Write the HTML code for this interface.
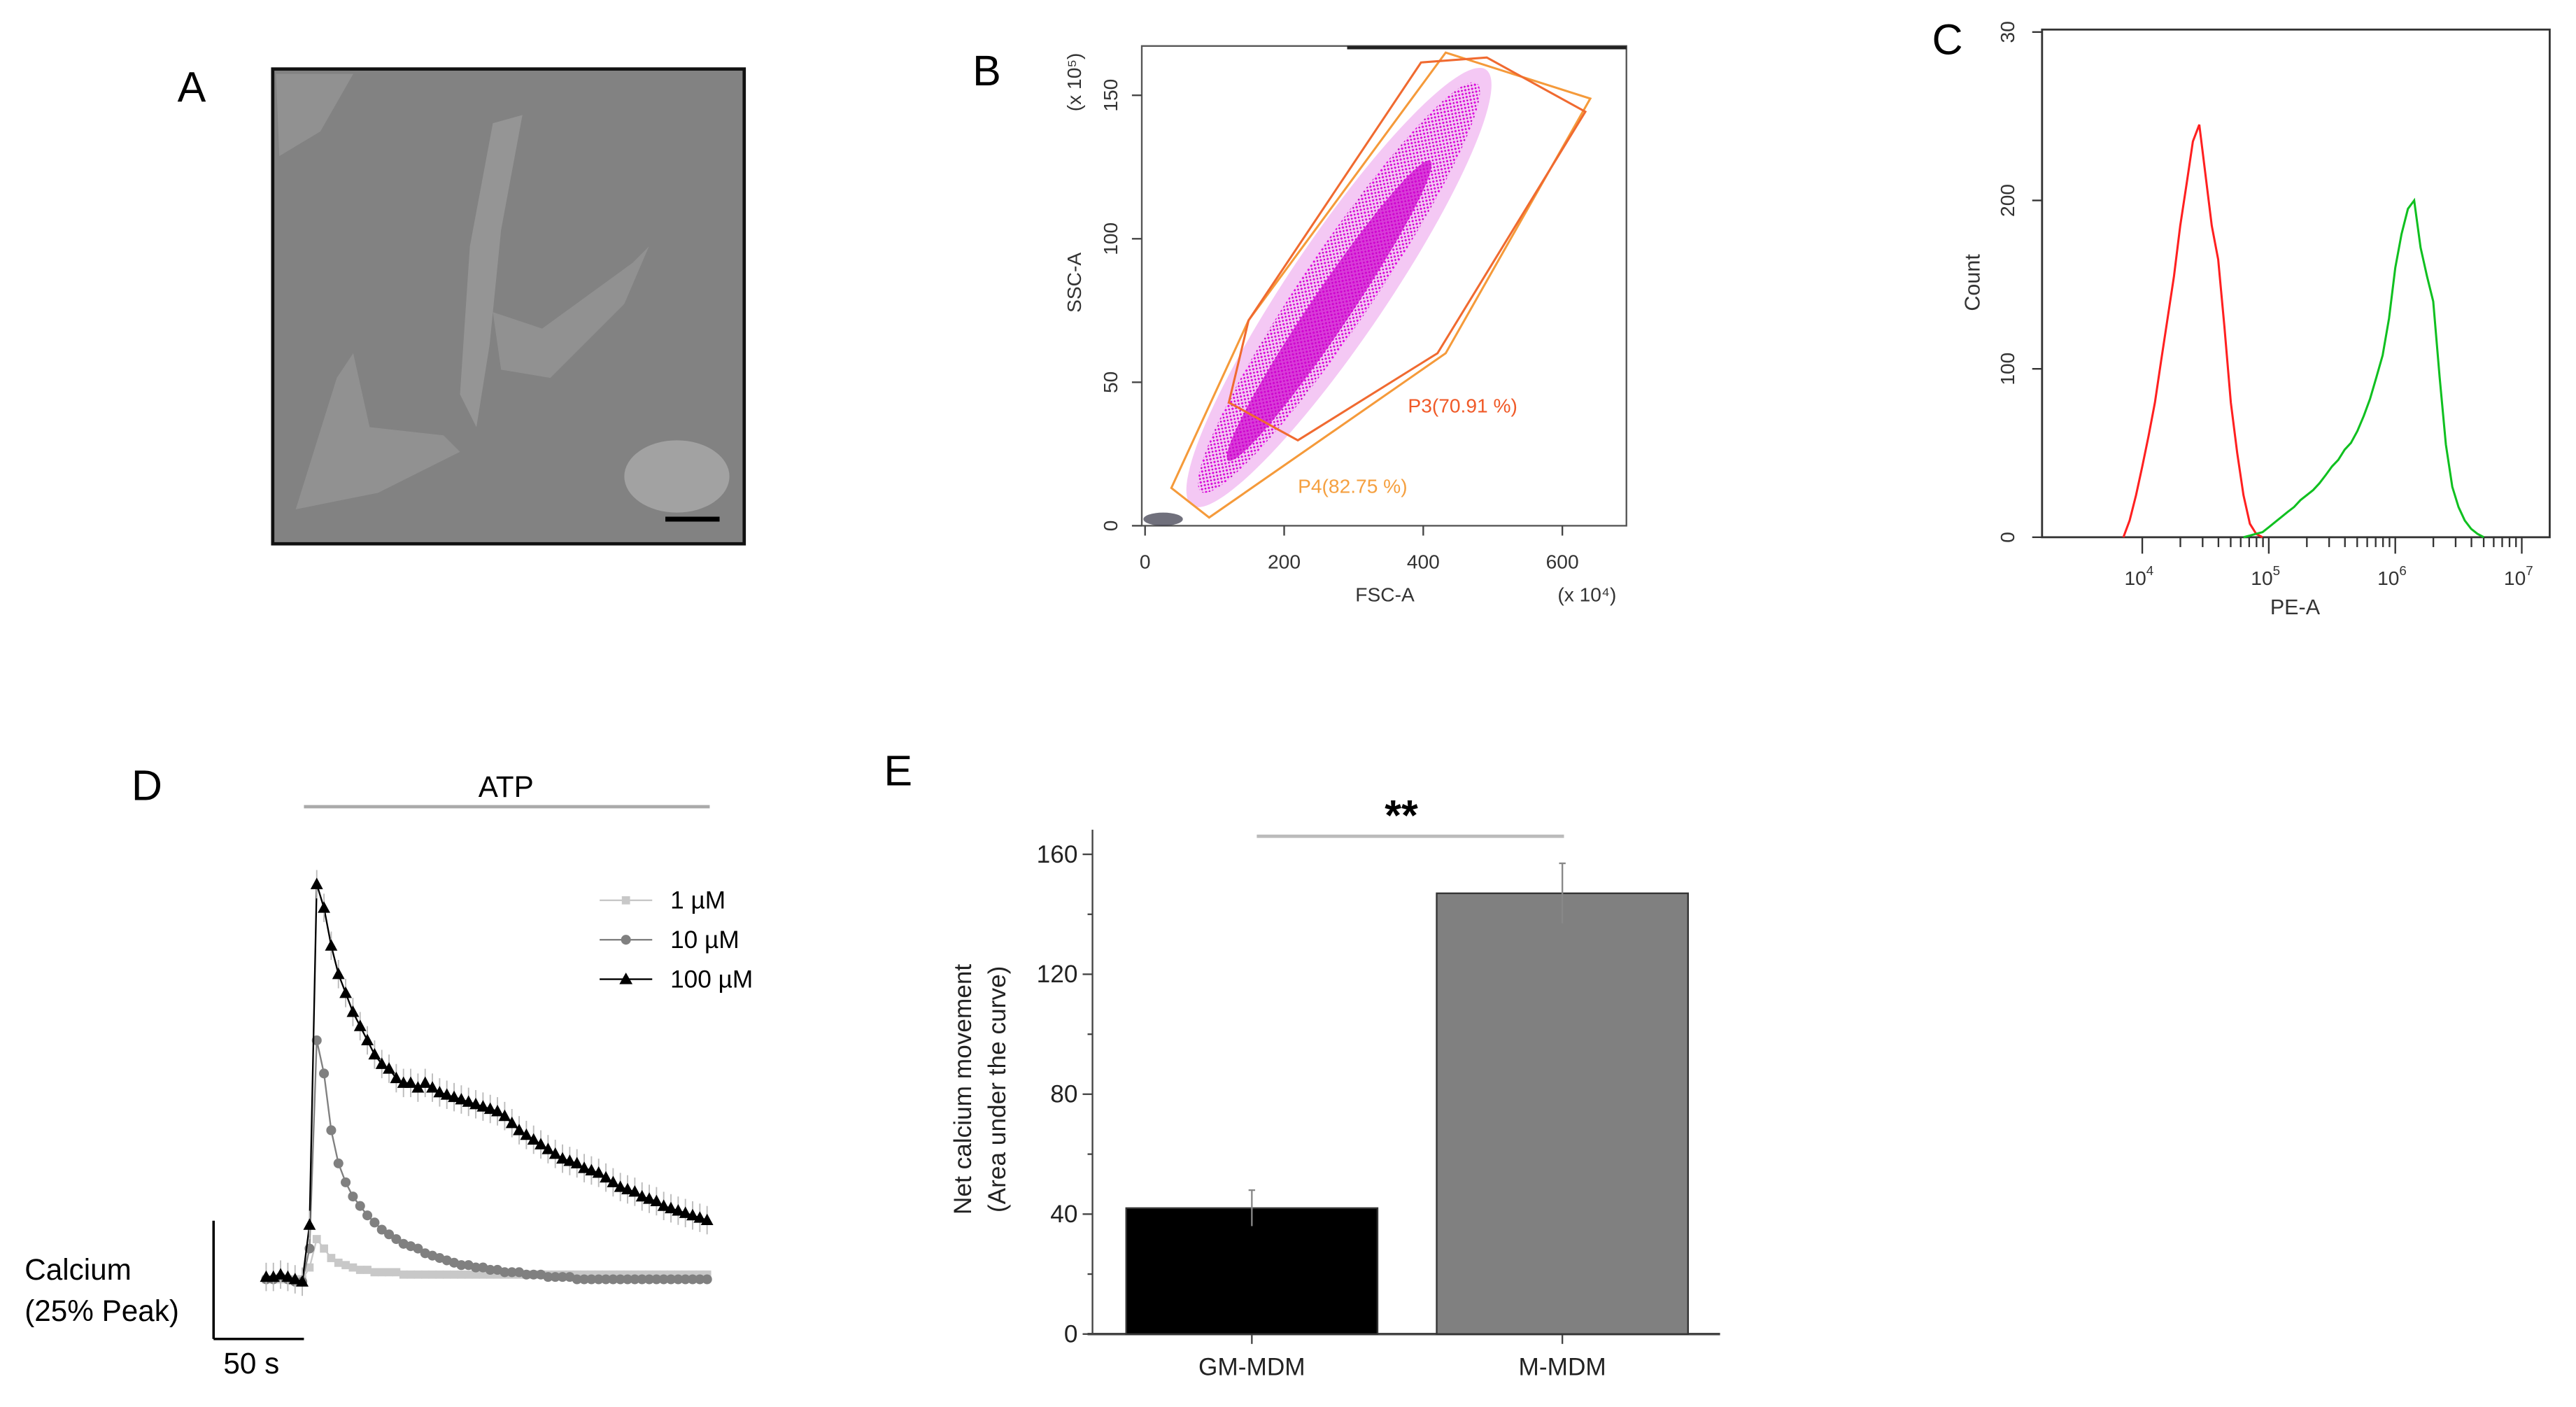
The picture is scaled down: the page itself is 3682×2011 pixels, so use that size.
<!DOCTYPE html>
<html><head><meta charset="utf-8"><style>
html,body{margin:0;padding:0;background:#fff;}
svg{display:block;font-family:"Liberation Sans",Arial,sans-serif;}
</style></head><body>
<svg id="fig" width="3682" height="2011" viewBox="0 0 1568 856.4" xmlns="http://www.w3.org/2000/svg">
<defs>
<pattern id="dots" width="3" height="3" patternUnits="userSpaceOnUse"><rect x="0" y="0" width="1.2" height="1.2" fill="#e000e0"/><rect x="1.6" y="1.6" width="1" height="1" fill="#c000c0"/></pattern>
</defs>
<!-- Panel A -->
<g>
<text x="108" y="62" font-size="26">A</text>
<rect x="166" y="42" width="287" height="289" fill="#828282" stroke="#111" stroke-width="2"/>
<path d="M300,75 L318,70 L305,140 L298,210 L290,260 L280,240 L286,150 Z" fill="#9a9a9a" opacity="0.8"/>
<path d="M300,190 L330,200 L385,160 L395,150 L380,185 L335,230 L305,225 Z" fill="#959595" opacity="0.8"/>
<path d="M180,310 L205,230 L215,215 L225,260 L270,265 L280,275 L230,300 Z" fill="#959595" opacity="0.8"/>
<ellipse cx="412" cy="290" rx="32" ry="22" fill="#a5a5a5" opacity="0.9"/>
<path d="M168,45 L215,45 L195,80 L170,95 Z" fill="#959595" opacity="0.8"/>
<line x1="405" y1="316" x2="438" y2="316" stroke="#000" stroke-width="3"/>
</g>
<!-- Panel B -->
<g>
<text x="592" y="52" font-size="26">B</text>
<rect x="695" y="28" width="295" height="292" fill="none" stroke="#555" stroke-width="1"/>
<line x1="820" y1="29" x2="990" y2="29" stroke="#222" stroke-width="2"/>
<g transform="rotate(-56 815 175)">
<ellipse cx="815" cy="175" rx="160" ry="30" fill="#e060e0" opacity="0.35"/>
<ellipse cx="815" cy="175" rx="150" ry="22" fill="url(#dots)"/>
<ellipse cx="800" cy="178" rx="110" ry="12" fill="#cc00cc" opacity="0.7"/>
</g>
<polygon points="713,297 736,315 880,215 968,60 880,32 760,195" fill="none" stroke="#f59a3a" stroke-width="1.3"/>
<polygon points="748,245 760,195 865,38 905,35 965,68 875,215 790,268" fill="none" stroke="#f06a30" stroke-width="1.3"/>
<ellipse cx="708" cy="316" rx="12" ry="4" fill="#334" opacity="0.7"/>
<text x="857" y="251" font-size="12" fill="#f05a28">P3(70.91 %)</text>
<text x="790" y="300" font-size="12" fill="#f5a040">P4(82.75 %)</text>
<g id="bAxes" font-size="12" fill="#333"></g>
<text x="843" y="366" font-size="12" text-anchor="middle" fill="#333">FSC-A</text>
<text x="966" y="366" font-size="12" text-anchor="middle" fill="#333">(x 10⁴)</text>
<text transform="translate(658,172) rotate(-90)" font-size="12" text-anchor="middle" fill="#333">SSC-A</text>
<text transform="translate(658,50) rotate(-90)" font-size="12" text-anchor="middle" fill="#333">(x 10⁵)</text>
</g>
<!-- Panel C -->
<g>
<text x="1176" y="33" font-size="26">C</text>
<rect x="1243" y="18" width="309" height="309" fill="none" stroke="#333" stroke-width="1.2"/>
<g id="cAxes" font-size="12" fill="#333"></g>
<g id="cMarks"></g>
<text x="1397" y="374" font-size="13" text-anchor="middle" fill="#333">PE-A</text>
<text transform="translate(1205,172) rotate(-90)" font-size="13" text-anchor="middle" fill="#333">Count</text>
</g>
<!-- Panel D -->
<g>
<text x="80" y="487" font-size="26">D</text>
<text x="308" y="485" font-size="18" text-anchor="middle">ATP</text>
<line x1="185" y1="491" x2="432" y2="491" stroke="#aaa" stroke-width="2"/>
<line x1="130" y1="743" x2="130" y2="815" stroke="#000" stroke-width="1.5"/>
<line x1="130" y1="815" x2="185" y2="815" stroke="#000" stroke-width="1.5"/>
<text x="15" y="779" font-size="18">Calcium</text>
<text x="15" y="804" font-size="18">(25% Peak)</text>
<text x="136" y="836" font-size="18">50 s</text>
<g id="dMarks"></g>
<g id="dLegend" font-size="15"></g>
</g>
<!-- Panel E -->
<g>
<text x="538" y="478" font-size="26">E</text>
<g id="eAxes" font-size="15" fill="#222"></g>
<g id="eMarks"></g>
<line x1="765" y1="509" x2="952" y2="509" stroke="#bbb" stroke-width="2"/>
<text x="853" y="505" font-size="26" font-weight="bold" text-anchor="middle">**</text>
<text transform="translate(591,663) rotate(-90)" font-size="15" text-anchor="middle" fill="#222">Net calcium movement</text>
<text transform="translate(612,663) rotate(-90)" font-size="15" text-anchor="middle" fill="#222">(Area under the curve)</text>
</g>
</svg>
<script>
// ---- Panel B ticks ----
const bXTicks=[0,200,400,600];
const bYTicks=[0,50,100,150];
// ---- Panel C data ----
const cXTicks=[4,5,6,7];
const cYTicks=[0,100,200,300];
const redStart=3.85;
const redCounts=[0,10,25,42,60,80,105,130,155,185,210,235,245,215,185,165,125,80,50,25,8,2,0];
const greenStart=4.8;
const greenCounts=[0,1,2,3,6,9,12,15,18,22,25,28,32,37,42,46,52,56,63,72,82,95,108,130,160,180,195,200,172,155,140,95,55,30,18,10,5,2,0];
const cBinStep=0.05;
// ---- Panel D data ----
const dTimeStep=4;
const dSeries1=[1.5,1.5,1.5,1.5,1.5,1.5,4,10,8,6,5,4.5,4,3.5,3.5,3,3,3,3,2.5,2.5,2.5,2.5,2.5,2.5,2.5,2.5,2.5,2.5,2.5,2.5,2.5,2.5,2.5,2.5,2.5,2.5,2.5,2.5,2.5,2.5,2.5,2.5,2.5,2.5,2.5,2.5,2.5,2.5,2.5,2.5,2.5,2.5,2.5,2.5,2.5,2.5,2.5,2.5,2.5,2.5,2.5];
const dSeries10=[1.5,1.5,2,1.5,1,1,8,52,45,33,26,22,19,17,15,13.5,12,11,10,9,8.5,8,7,6.5,6,5.5,5,4.5,4.5,4,4,3.5,3.5,3,3,3,2.5,2.5,2.5,2,2,2,2,1.5,1.5,1.5,1.5,1.5,1.5,1.5,1.5,1.5,1.5,1.5,1.5,1.5,1.5,1.5,1.5,1.5,1.5,1.5];
const dSeries100=[2,2,2.5,2,1.5,1,13,85,80,72,66,62,58,55,52,49,47,46,44,43,43,42,43,42,41,40.5,40,39.5,39,38.5,38,37.5,37,36,34.5,33,32,31,30,29,28,27,26.5,26,25,24.5,24,23,22,21,20.5,20,19,18.5,18,17,16.5,16,15.5,15,14.5,14];
const dLegendLabels=["1 µM","10 µM","100 µM"];
// ---- Panel E data ----
const eCategories=["GM-MDM","M-MDM"];
const eValues=[42,147];
const eErrors=[6,10];
const eYTicks=[0,40,80,120,160];

const NS="http://www.w3.org/2000/svg";
function mk(tag,attrs,parent){const e=document.createElementNS(NS,tag);for(const k in attrs)e.setAttribute(k,attrs[k]);parent.appendChild(e);return e;}

// Panel B axes
const bx=v=>697+v*(951-697)/600, by=v=>320-v*(320-58)/150;
const bA=document.getElementById('bAxes');
bXTicks.forEach(t=>{const l=mk('line',{x1:bx(t),x2:bx(t),y1:320,y2:326,stroke:'#444'},bA);


const tx=mk('text',{x:bx(t),y:346,'text-anchor':'middle'},bA);tx.textContent=t;

});
bYTicks.forEach(t=>{const l=mk('line',{x1:689,x2:695,y1:by(t),y2:by(t),stroke:'#444'},bA);


const tx=mk('text',{transform:`translate(680,${by(t)}) rotate(-90)`,'text-anchor':'middle'},bA);tx.textContent=t;

});

// Panel C
const cx=v=>1304+(v-4)*77, cy=v=>327-v*(327-122)/200;
const cA=document.getElementById('cAxes');
cXTicks.forEach(t=>{const l=mk('line',{x1:cx(t),x2:cx(t),y1:327,y2:337,stroke:'#333'},cA);


for(let m=2;m<10&&t<7;m++){const mx=cx(t+Math.log10(m));const ml=mk('line',{x1:mx,x2:mx,y1:327,y2:333,stroke:'#333'},cA);

}
const tx=mk('text',{x:cx(t)-2,y:356,'text-anchor':'middle'},cA);tx.innerHTML='10<tspan dy="-6" font-size="8">'+t+'</tspan>';

});
cYTicks.forEach(t=>{const l=mk('line',{x1:1237,x2:1243,y1:cy(t),y2:cy(t),stroke:'#333'},cA);


const tx=mk('text',{transform:`translate(1226,${cy(t)}) rotate(-90)`,'text-anchor':'middle'},cA);tx.textContent=t===300?30:t;

});
const cM=document.getElementById('cMarks');
function hist(start,arr,color,name){const pts=arr.map((v,i)=>cx(start+i*cBinStep).toFixed(1)+','+cy(v).toFixed(1)).join(' ');
const p=mk('polyline',{points:pts,fill:'none',stroke:color,'stroke-width':1.3},cM);

}
hist(redStart,redCounts,'#ff2020','histogram-control-red');
hist(greenStart,greenCounts,'#10c020','histogram-stained-green');

// Panel D
const dx=t=>162+t*1.1, dy=v=>783-v*2.88;
const dM=document.getElementById('dMarks');
function series(arr,color,shape,name,err){
const pts=arr.map((v,i)=>dx(i*dTimeStep).toFixed(1)+','+dy(v).toFixed(1)).join(' ');
const p=mk('polyline',{points:pts,fill:'none',stroke:color,'stroke-width':1},dM);


arr.forEach((v,i)=>{const X=dx(i*dTimeStep),Y=dy(v);
if(err){const e=mk('line',{x1:X,x2:X,y1:Y-err*2.88,y2:Y+err*2.88,stroke:'#bbb','stroke-width':0.8},dM);

}
let m;
if(shape==='tri')m=mk('polygon',{points:`${X},${Y-4} ${X-3.8},${Y+3} ${X+3.8},${Y+3}`,fill:color},dM);
else if(shape==='circ')m=mk('circle',{cx:X,cy:Y,r:3,fill:color},dM);
else m=mk('rect',{x:X-2.5,y:Y-2.5,width:5,height:5,fill:color},dM);

});}
series(dSeries1,'#c8c8c8','sq','series-1um',0.8);
series(dSeries10,'#808080','circ','series-10um',1);
series(dSeries100,'#000','tri','series-100um',3);
const dL=document.getElementById('dLegend');
[['#c8c8c8','sq'],['#808080','circ'],['#000','tri']].forEach((s,i)=>{const Y=548+i*24;
const l=mk('line',{x1:365,x2:397,y1:Y,y2:Y,stroke:s[0] ,'stroke-width':1},dL);


let m;if(s[1]==='tri')m=mk('polygon',{points:`381,${Y-4} 377,${Y+3} 385,${Y+3}`,fill:s[0]},dL);
else if(s[1]==='circ')m=mk('circle',{cx:381,cy:Y,r:3,fill:s[0]},dL);
else m=mk('rect',{x:378.5,y:Y-2.5,width:5,height:5,fill:s[0]},dL);


const tx=mk('text',{x:408,y:Y+5},dL);tx.textContent=dLegendLabels[i];

});

// Panel E
const ey=v=>812-v*(812-520)/160;
const eA=document.getElementById('eAxes');
const ax1=mk('line',{x1:665,x2:665,y1:505,y2:812,stroke:'#444','stroke-width':1},eA);


const ax2=mk('line',{x1:662,x2:1047,y1:812,y2:812,stroke:'#444','stroke-width':1.5},eA);


eYTicks.forEach(t=>{const l=mk('line',{x1:659,x2:665,y1:ey(t),y2:ey(t),stroke:'#444'},eA);


const tx=mk('text',{x:656,y:ey(t)+5,'text-anchor':'end'},eA);tx.textContent=t;


if(t<160){const ml=mk('line',{x1:662,x2:665,y1:ey(t+20),y2:ey(t+20),stroke:'#444'},eA);

}});
const eM=document.getElementById('eMarks');
const eCenters=[762,951], eW=153, eColors=['#000','#808080'];
eCategories.forEach((c,i)=>{
const r=mk('rect',{x:eCenters[i]-eW/2,y:ey(eValues[i]),width:eW,height:812-ey(eValues[i]),fill:eColors[i],stroke:'#333','stroke-width':1},eM);


const e=mk('line',{x1:eCenters[i],x2:eCenters[i],y1:ey(eValues[i]+eErrors[i]),y2:ey(eValues[i]-eErrors[i]),stroke:'#888','stroke-width':1},eM);


const cap=mk('line',{x1:eCenters[i]-2,x2:eCenters[i]+2,y1:ey(eValues[i]+eErrors[i]),y2:ey(eValues[i]+eErrors[i]),stroke:'#888'},eM);


const tk=mk('line',{x1:eCenters[i],x2:eCenters[i],y1:812,y2:818,stroke:'#444'},eA);


const tx=mk('text',{x:eCenters[i],y:837,'text-anchor':'middle'},eA);tx.textContent=c;

});
</script>
</body></html>
